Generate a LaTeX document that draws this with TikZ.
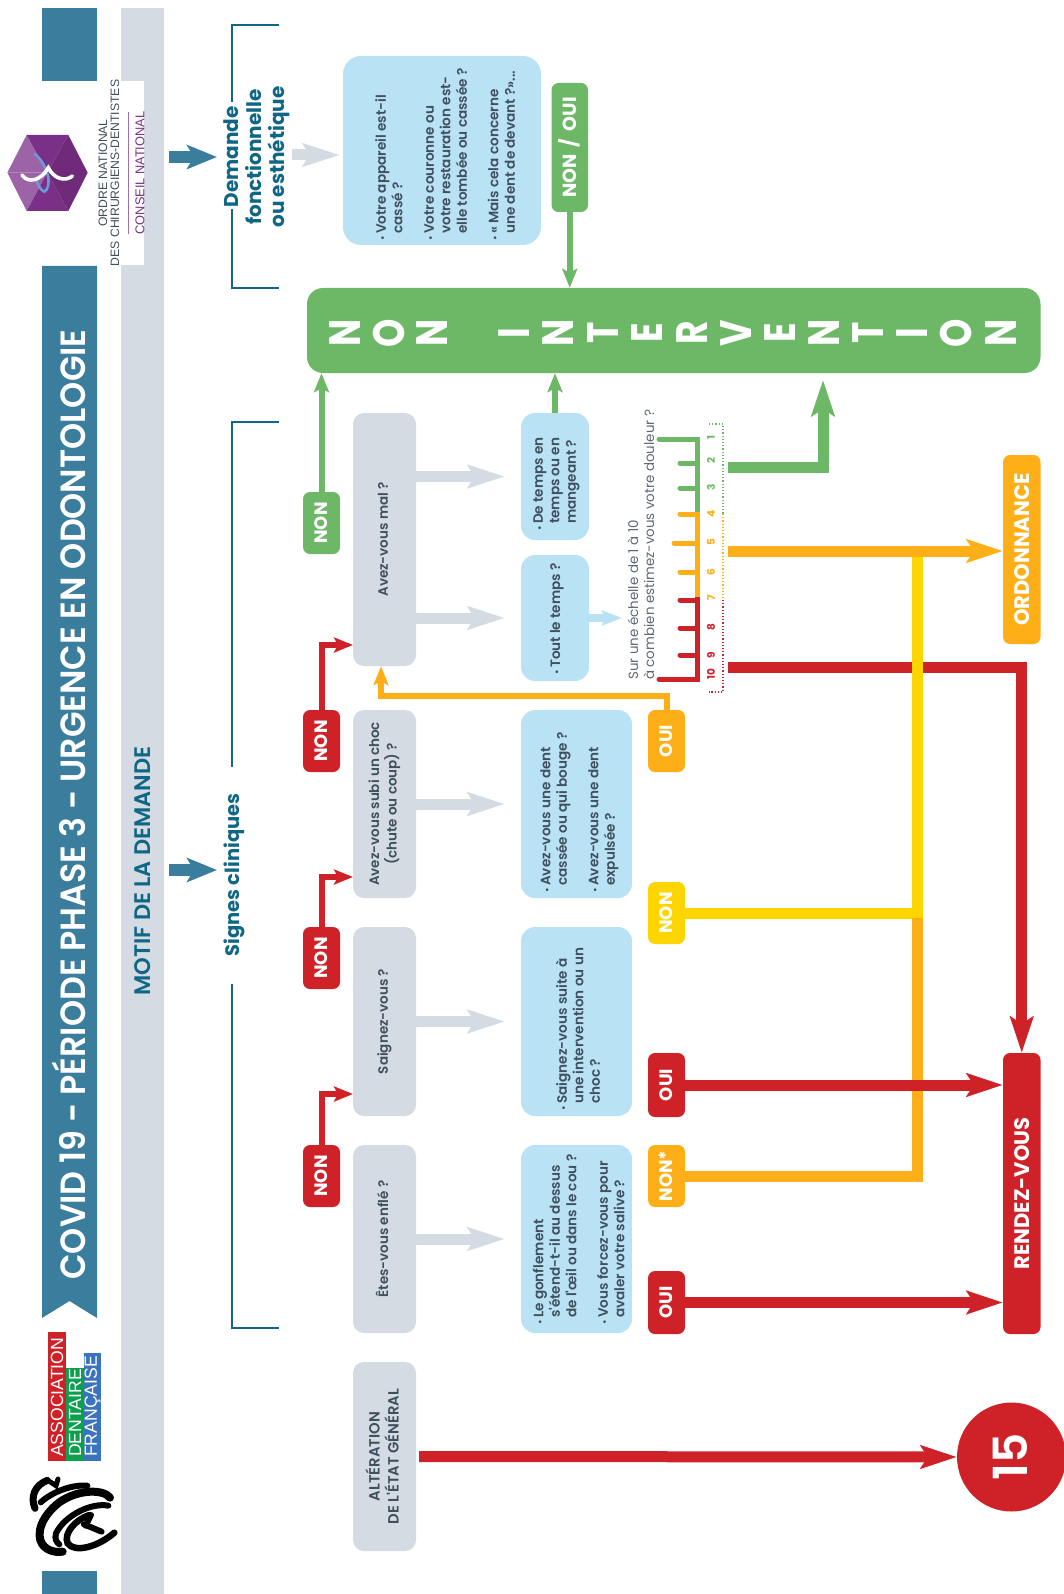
\documentclass[tikz,border=0pt]{standalone}
\usepackage{fontspec}
\usepackage{graphicx}
\setmainfont{Poppins}
\newfontfamily\medf{Poppins SemiBold}
\newfontfamily\lib{Liberation Sans}
\usetikzlibrary{arrows.meta,calc}
\definecolor{cred}{HTML}{CF2228}
\definecolor{corange}{HTML}{FEAF17}
\definecolor{cyellow}{HTML}{FFD500}
\definecolor{cgreen}{HTML}{6DB866}
\definecolor{cblue}{HTML}{B9E2F5}
\definecolor{cgray}{HTML}{D4DBE2}
\definecolor{cteal}{HTML}{3A7D9C}
\definecolor{cdeep}{HTML}{0F6685}
\definecolor{cink}{HTML}{3F4F5C}
\definecolor{cpurple}{HTML}{7B3088}
\definecolor{adfg}{HTML}{0C9F4D}
\definecolor{adfb}{HTML}{3B74BE}
\newcommand\fs[2]{\fontsize{#1}{#2}\selectfont}
\newcommand\rt[1]{\rotatebox{90}{\raisebox{-3pt}{\begin{tabular}{@{}c@{}}#1\end{tabular}}}}
\newcommand\rc[1]{\rotatebox{90}{\raisebox{-.35em}[0pt][0pt]{#1}}}
\newcommand\bu{\makebox[7pt][l]{\scalebox{.7}{•}}}
\newcommand\ind{\hspace*{7pt}}
\newcommand\bx[7]{%
 \pgfmathsetmacro\bxw{#5-#3}\pgfmathsetmacro\bxh{#6-#4}%
 \pgfmathsetmacro\bxx{(#3+#5)/2}\pgfmathsetmacro\bxy{(#4+#6)/2}%
 \node[#1,minimum width=\bxw pt,minimum height=\bxh pt,inner sep=0pt] (#2) at (\bxx,\bxy) {#7};}
\tikzset{
 qbox/.style={fill=cgray,rounded corners=11pt,text=cink,font=\medf\fs{13.5}{16.5}},
 abox/.style={fill=cblue,rounded corners=14pt},
 atext/.style={rotate=90,anchor=west,align=left,inner sep=0pt,text=cink,font=\medf\fs{13.6}{16.5}},
 badge/.style={rounded corners=7pt,text=white,font=\bfseries\fs{18}{20}},
 bred/.style={badge,fill=cred},
 bora/.style={badge,fill=corange},
 byel/.style={badge,fill=cyellow},
 bgre/.style={badge,fill=cgreen},
 thin arr/.style={line width=6pt,-{Stealth[length=19pt,width=15pt,inset=4pt]}},
 big arr/.style={line width=11pt,-{Stealth[length=36pt,width=23pt,inset=7pt]}},
 plain arr/.style={line width=11pt},
 grayarr/.style={draw=cgray,line width=11pt,shorten >=16pt,-{Stealth[length=37pt,width=23pt,inset=7pt]}},
 tealarr/.style={draw=cteal,line width=12pt,-{Stealth[length=30pt,width=24pt,inset=7pt]}},
 brk/.style={draw=cdeep,line width=2pt},
 tickg/.style={draw=cgreen,line width=5pt,line cap=round},
 ticko/.style={draw=corange,line width=5pt,line cap=round},
 tickr/.style={draw=cred,line width=5pt,line cap=round},
 num/.style={rotate=90,inner sep=0pt,font=\bfseries\fs{10.5}{12}},
 bigletter/.style={text=white,inner sep=0pt,font=\bfseries\fs{44}{44}},
 logostroke/.style={draw=black,line cap=round},
}
\begin{document}
\begin{tikzpicture}[x=1pt,y=-1pt]
\useasboundingbox (0,0) rectangle (1063,1594);
% header bands
\fill[cgray] (121,8) rectangle (163.5,1594);
\fill[white] (96,81) rectangle (143.5,265);
\fill[cteal] (42,8) rectangle (97,81);
\fill[cteal] (42,266) -- (97,266) -- (97,1318) -- (69.5,1301) -- (42,1318) -- cycle;
\fill[cteal] (42,1571) rectangle (97,1594);
\node[rotate=90,text=white,inner sep=0pt,font=\medf\fs{35}{36}] (title) at (68.5,804.5) {\scalebox{.95}[1]{COVID 19 - PÉRIODE PHASE 3 - URGENCE EN ODONTOLOGIE}};
\node[rotate=90,text=cdeep,inner sep=0pt,font=\medf\fs{22.5}{24}] (motif) at (143,871) {MOTIF DE LA DEMANDE};
% ordre logo
\begin{scope}[shift={(0,125)},x=0.3333pt,y=-0.3333pt]
 \fill[cpurple!75!white] (142,143) -- (22,143) -- (80,30) -- cycle;
 \fill[cpurple!75!white] (142,143) -- (22,143) -- (80,258) -- cycle;
 \fill[cpurple] (142,143) -- (80,30) -- (205,30) -- cycle;
 \fill[cpurple] (142,143) -- (80,258) -- (205,258) -- cycle;
 \fill[cpurple!90!black] (142,143) -- (205,30) -- (263,143) -- (205,258) -- cycle;
 \draw[draw=cyan!50!blue!60!white,line width=2.6pt] (103,85) .. controls (150,125) and (155,190) .. (133,200) .. controls (122,195) and (112,180) .. (108,160);
 \draw[draw=white,line width=3.6pt,line cap=round] (66,150) .. controls (85,178) and (125,165) .. (145,128) .. controls (160,160) and (195,172) .. (217,153);
\end{scope}
\node[rotate=90,align=center,inner sep=0pt,text=cink,font=\lib\fs{12.2}{12}] (ordre) at (109,173) {ORDRE NATIONAL\\DES CHIRURGIENS-DENTISTES};
\draw[draw=cpurple!70!white,line width=0.8pt] (128,112) -- (128,234);
\node[rotate=90,inner sep=0pt,text=cpurple,font=\lib\fs{12.8}{14}] (conseil) at (140,173) {CONSEIL NATIONAL};
% ADF logo
\fill[cred] (48,1332) rectangle (66,1461);
\fill[adfg] (66,1368) rectangle (83.5,1461);
\fill[adfb] (83.5,1353) rectangle (101,1461);
\node[rotate=90,anchor=west,inner sep=0pt,text=white,font=\lib\fs{17.6}{16}] (adfa) at (57,1457) {ASSOCIATION};
\node[rotate=90,anchor=west,inner sep=0pt,text=white,font=\lib\fs{17.6}{16}] (adfb) at (75,1457) {DENTAIRE};
\node[rotate=90,anchor=west,inner sep=0pt,text=white,font=\lib\fs{17.6}{16}] (adfc) at (92.5,1457) {FRANÇAISE};
% black logo
\begin{scope}[shift={(20,1465)},x=0.3333pt,y=-0.3333pt]
 \draw[logostroke,line width=6.5pt] (283,203) .. controls (235,245) and (165,265) .. (143,235) .. controls (130,205) and (165,165) .. (208,150);
 \draw[logostroke,line width=8pt] (270,98) .. controls (250,72) and (175,72) .. (118,112) .. controls (68,150) and (45,205) .. (67,238) .. controls (85,262) and (115,262) .. (128,260);
 \draw[logostroke,line width=6pt] (265,122) .. controls (215,112) and (135,150) .. (108,205) .. controls (103,222) and (110,232) .. (118,238);
 \draw[logostroke,line width=7pt] (45,130) .. controls (30,95) and (45,60) .. (82,46);
 \draw[logostroke,line width=6pt] (62,112) .. controls (100,78) and (160,58) .. (202,62);
 \draw[logostroke,line width=5pt] (90,50) -- (108,62) -- (114,42);
 \draw[logostroke,line width=6pt] (213,150) -- (197,182);
 \draw[logostroke,line width=6pt] (192,178) -- (245,200);
\end{scope}
% brackets and headings
\node[rotate=90,align=center,inner sep=0pt,text=cdeep,font=\bfseries\fs{20}{23}] (dem) at (256.5,157) {Demande\\fonctionnelle\\ou esthétique};
\draw[brk] (279,25) -- (232,25) -- (232,102);
\draw[brk] (232,209) -- (232,288) -- (279,288);
\node[rotate=90,inner sep=0pt,text=cdeep,font=\bfseries\fs{19.5}{23}] (sig) at (234,875) {Signes cliniques};
\draw[brk] (279,422) -- (232,422) -- (232,767);
\draw[brk] (232,984) -- (232,1328) -- (279,1328);
\coordinate (t1a) at (169,157);\coordinate (t1b) at (217,157);
\coordinate (t2a) at (169,870);\coordinate (t2b) at (217,870);
\draw[tealarr] (t1a) -- (t1b);
\draw[tealarr] (t2a) -- (t2b);
% main boxes
\bx{fill=cgreen,rounded corners=16pt}{big}{307}{288}{1040.5}{373}{}
\foreach \l/\px in {N/345,O/388.6,N/432,I/514,N/558,T/603,E/647,R/692,V/736.5,E/780,N/824.5,T/868,I/912,O/956,N/1001}
 \node[bigletter] (L\px) at (\px,333) {\rotatebox{90}{\scalebox{.82}[1]{\l}}};
\bx{abox,rounded corners=18pt}{a0}{343}{56}{541}{245}{}
\node[atext] (t0) at (445,241) {\bu Votre appareil est-il\\\ind cassé ?\\[15pt]\bu Votre couronne ou\\\ind votre restauration est-\\\ind elle tombée ou cassée ?\\[15pt]\bu « Mais cela concerne\\\ind une dent de devant ?»...};
\bx{bgre}{nonoui}{551.5}{83}{588}{212}{\fs{19}{20}\rc{NON\, / \,OUI}}
% questions
\bx{qbox}{q0}{353}{1362}{416}{1551}{\fs{14.8}{16.5}\rt{ALTÉRATION\\DE L'ÉTAT GÉNÉRAL}}
\bx{qbox}{q1}{353}{1145}{416}{1333}{\rt{Êtes-vous enflé ?}}
\bx{qbox}{q2}{353}{927}{416}{1116}{\rt{Saignez-vous ?}}
\bx{qbox}{q3}{353}{710}{416}{898}{\rt{Avez-vous subi un choc\\(chute ou coup) ?}}
\bx{qbox}{q4}{353}{413}{416}{666}{\rt{Avez-vous mal ?}}
% answers
\bx{abox}{a1}{521}{1145}{632}{1333}{}
\node[atext] (t1) at (578.5,1325) {\bu Le gonflement\\\ind s'étend-t-il au dessus\\\ind de l'œil ou dans le cou ?\\[15pt]\bu Vous forcez-vous pour\\\ind avaler votre salive ?};
\bx{abox}{a2}{521}{927}{632}{1116}{}
\node[atext] (t2) at (578,1111) {\bu Saignez-vous suite à\\\ind une intervention ou un\\\ind choc ?};
\bx{abox}{a3}{521}{710}{632}{898}{}
\node[atext] (t3) at (579.5,893) {\bu Avez-vous une dent\\\ind cassée ou qui bouge ?\\[15pt]\bu Avez-vous une dent\\\ind expulsée ?};
\bx{abox}{a4}{521}{555}{589}{681}{}
\node[atext] (t4) at (557,675) {\bu Tout le temps ?};
\bx{abox}{a5}{521}{413}{589}{540}{}
\node[atext] (t5) at (556.5,531) {\bu De temps en\\\ind temps ou en\\\ind mangeant ?};
% gray arrows
\coordinate (c0) at (292,155);
\draw[grayarr,shorten >=3pt] (c0) -- (a0.west |- c0);
\draw[grayarr] (q1.east) -- (a1.west);
\draw[grayarr] (q2.east) -- (a2.west);
\draw[grayarr] (q3.east) -- (a3.west);
\draw[grayarr] (q4.east |- a4.west) -- (a4.west);
\draw[grayarr] (q4.east |- a5.west) -- (a5.west);
\coordinate (sc) at (622,618);
\draw[draw=cblue,line width=8pt,-{Stealth[length=20pt,width=15pt,inset=3pt]}] (a4.east) -- (sc);
% end boxes
\bx{bred}{rdv}{1003}{1053}{1040.5}{1334}{\fs{21}{22}\rc{RENDEZ-VOUS}}
\bx{bora}{ord}{1003}{455}{1040.5}{644}{\fs{21}{22}\rc{ORDONNANCE}}
\node[circle,fill=cred,minimum size=109pt,inner sep=0pt,text=white,font=\medf\fs{47}{47}] (c15) at (1011.5,1457) {\rc{15}};
% badges left
\bx{bgre}{n0}{303}{492}{340}{554}{\rc{NON}}
\bx{bred}{n1}{303}{710}{340}{772}{\rc{NON}}
\bx{bred}{n2}{303}{927}{340}{989}{\rc{NON}}
\bx{bred}{n3}{303}{1145}{340}{1207}{\rc{NON}}
% badges right
\bx{bora}{r4}{648}{710}{685}{772}{\rc{OUI}}
\bx{byel}{r3}{648}{882}{685}{944}{\rc{NON}}
\bx{bred}{r2}{648}{1053}{685}{1117}{\rc{OUI}}
\bx{bora}{r1s}{648}{1145}{685}{1207}{\rc{NON*}}
\bx{bred}{r1}{648}{1271}{685}{1334}{\rc{OUI}}
% left connectors
\coordinate (in4) at (353,645);\coordinate (in3) at (353,877);\coordinate (in2) at (353,1094);
\draw[cgreen,thin arr] (n0.north) -- (n0.north |- big.south);
\draw[cred,thin arr] (n1.north) |- (in4);
\draw[cred,thin arr] (n2.north) |- (in3);
\draw[cred,thin arr] (n3.north) |- (in2);
\draw[cgreen,thin arr] (nonoui.south) -- (nonoui.south |- big.north);
\draw[cgreen,thin arr] (a5.north) -- (a5.north |- big.south);
\coordinate (el) at (381,696);
\draw[corange,thin arr] (r4.north) |- (el) -- (el |- q4.south);
% scale
\node[rotate=90,anchor=west,align=left,inner sep=0pt,text=cink!85!white,font=\fs{13.4}{16}] (sctext) at (641,680) {Sur une échelle de 1 à 10\\à combien estimez-vous votre douleur ?};
\draw[tickg] (659,439) -- (697,439);
\draw[tickg] (680,463) -- (697,463);
\draw[tickg] (680,488) -- (697,488);
\draw[ticko] (680,514) -- (697,514);
\draw[ticko] (674,543) -- (697,543);
\draw[ticko] (680,572) -- (697,572);
\draw[tickr] (680,600) -- (697,600);
\draw[tickr] (680,628) -- (697,628);
\draw[tickr] (680,655) -- (697,655);
\draw[tickr] (659,679) -- (697,679);
\draw[cgreen,line width=5pt] (697,437) -- (697,513);
\draw[corange,line width=5pt] (697,512) -- (697,598);
\draw[cred,line width=5pt] (697,597) -- (697,681.5);
\foreach \n/\py/\c in {1/438/cgreen,2/461/cgreen,3/487/cgreen,4/514/corange,5/542/corange,6/572/corange,7/598/corange,8/627/cred,9/655/cred,10/674/cred}
 \node[num,text=\c] (num\n) at (711,\py) {\n};
\draw[cgreen,line width=1.2pt,dotted] (709,424) -- (723,424) -- (723,514);
\draw[corange,line width=1.2pt,dotted] (723,514) -- (723,600);
\draw[cred,line width=1.2pt,dotted] (723,600) -- (723,692) -- (709,692);
% scale outputs
\coordinate (sg) at (728,467);\coordinate (so) at (728,551);\coordinate (sr) at (728,667.5);
\coordinate (gt) at (823,380);
\coordinate (jt) at (917.5,551);\coordinate (jb) at (917.5,918);
\draw[cgreen,line width=11pt] (sg) -| ($(gt)+(0,30)$);
\draw[cgreen,big arr] ($(gt)+(0,36)$) -- (gt);
\draw[cred,big arr] (sr) -| (rdv.north);
\draw[cyellow,plain arr] (r3.east) -| (jt);
\draw[corange,plain arr] (r1s.east) -| (jb);
\draw[corange,big arr] (so) -- (so -| ord.west);
\draw[cred,big arr] (r2.east) -- (r2.east -| rdv.west);
\draw[cred,big arr] (r1.east) -- (r1.east -| rdv.west);
\draw[cred,big arr,shorten <=3pt] (q0.east) -- (c15.west);
\end{tikzpicture}
\end{document}
